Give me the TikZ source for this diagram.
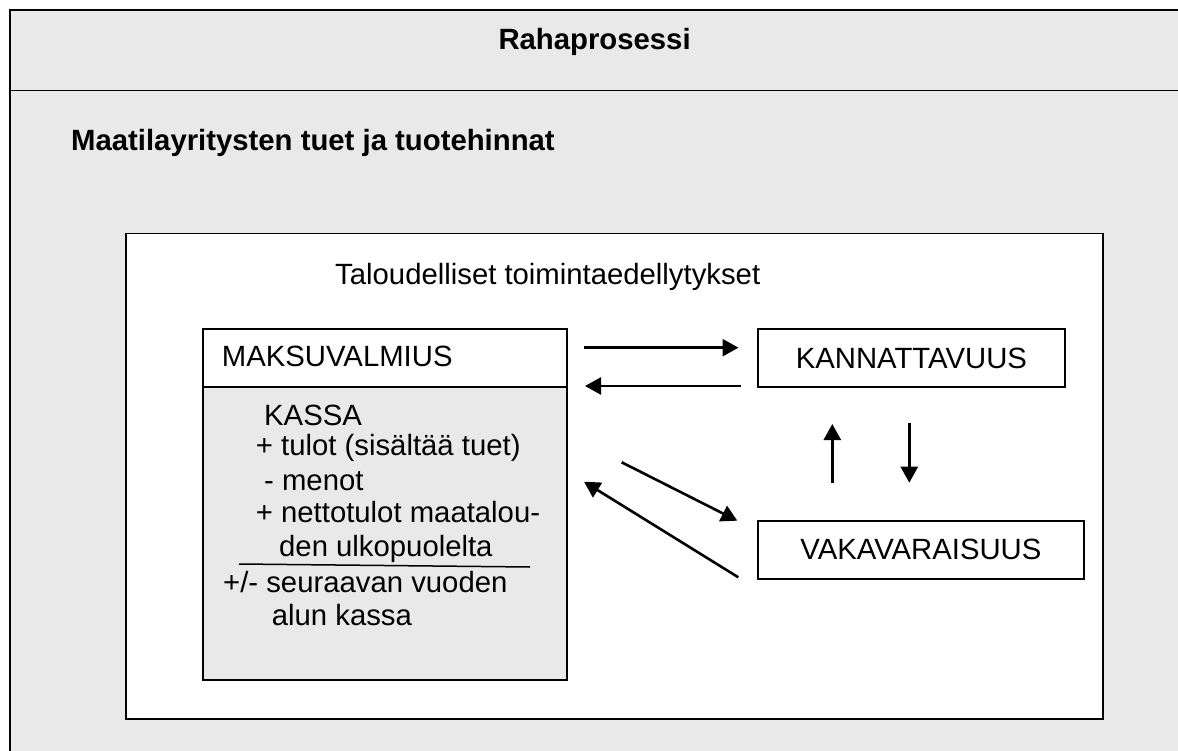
\documentclass[tikz,border=0pt]{standalone}
\usepackage{fontspec}
\setmainfont{Liberation Sans}
\usetikzlibrary{arrows.meta}
\definecolor{panelgray}{HTML}{E9E9E9}
\tikzset{
  frame/.style={draw=black, line width=1.8pt},
  txt/.style={inner sep=0pt, anchor=base west, font=\fontsize{29.3}{35}\selectfont},
  boldtxt/.style={inner sep=0pt, font=\fontsize{29.3}{35}\selectfont\bfseries},
  boxnode/.style={draw=black, line width=1.8pt, inner sep=0pt, anchor=north west,
    font=\fontsize{29.3}{35}\selectfont},
  flow/.style={line width=2.6pt, -{Triangle[length=16pt,width=17pt]}},
}
\begin{document}
\begin{tikzpicture}[x=1pt,y=-1pt]
\useasboundingbox[fill=white] (0,0) rectangle (1178,751);
% outer panel
\fill[panelgray] (10,10) rectangle (1178.4,780);
\draw[frame] (10,10) rectangle (1178.4,780);
\draw[frame] (10,90.5) -- (1178.4,90.5);
\node[boldtxt, anchor=base] (title) at (594.6,50) {Rahaprosessi};
\node[boldtxt, anchor=base west] (sub) at (71,151) {Maatilayritysten tuet ja tuotehinnat};
% inner white box
\node[boxnode, fill=white, minimum width=977pt, minimum height=485pt] (inner) at (124.7,232.7) {};
\node[txt] (cond) at (335,285) {Taloudelliset toimintaedellytykset};
% MAKSUVALMIUS box
\node[boxnode, fill=white, minimum width=364.3pt, minimum height=57.4pt] (maksu) at (201.7,328.3) {};
\node[boxnode, fill=panelgray, minimum width=364.3pt, minimum height=293.6pt] (kassa) at (201.7,385.7) {};
\node[txt] (maksulbl) at (221.7,366.7) {MAKSUVALMIUS};
\node[txt] (k1) at (264,425) {KASSA};
\node[txt] (k2) at (255.7,455) {+ tulot (sisältää tuet)};
\node[txt] (k3) at (264,490) {- menot};
\node[txt] (k4) at (255.7,522) {+ nettotulot maatalou-};
\node[txt] (k5) at (279,556) {den ulkopuolelta};
\node[txt] (k6) at (223,592) {+/- seuraavan vuoden};
\node[txt] (k7) at (271.7,625) {alun kassa};
\coordinate (rulea) at (239,564);
\coordinate (ruleb) at (530,567);
\draw[line width=1.5pt] (rulea) -- (ruleb);
% right boxes
\node[boxnode, fill=white, minimum width=307pt, minimum height=58pt] (kann) at (757,328.3) {KANNATTAVUUS};
\node[boxnode, fill=white, minimum width=326pt, minimum height=57.7pt] (vaka) at (757,520) {VAKAVARAISUUS};
% arrows
\coordinate (a1s) at (584,347.7);  \coordinate (a1e) at (738.5,347.7);
\coordinate (a2s) at (740.7,386);  \coordinate (a2e) at (585,386);
\coordinate (a3s) at (832.3,482.7); \coordinate (a3e) at (832.3,424);
\coordinate (a4s) at (909.3,422.7); \coordinate (a4e) at (909.3,482.7);
\coordinate (a5s) at (621.7,462.3); \coordinate (a5e) at (737.3,520.7);
\coordinate (a6s) at (738.3,577.3); \coordinate (a6e) at (584,481.7);
\draw[flow] (a1s) -- (a1e);
\draw[flow] (a2s) -- (a2e);
\draw[flow] (a3s) -- (a3e);
\draw[flow] (a4s) -- (a4e);
\draw[flow] (a5s) -- (a5e);
\draw[flow] (a6s) -- (a6e);
\end{tikzpicture}
\end{document}
